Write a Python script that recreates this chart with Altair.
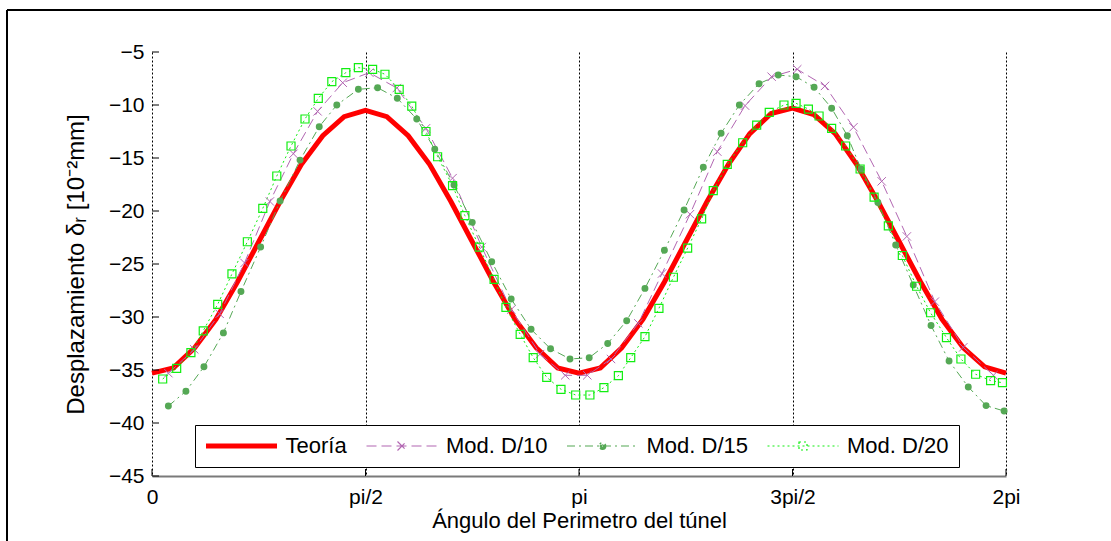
import altair as alt
import pandas as pd

# ---------------- data ----------------
series_names = ["Teoría", "Mod. D/10", "Mod. D/15", "Mod. D/20"]
series_colors = ["#FF0000", "#B266B2", "#55A855", "#11EE11"]

# angle in degrees along the tunnel perimeter, displacement in 1e-2 mm
teoria_ang = [0, 9, 18, 27, 36, 45, 54, 63, 72, 81, 90, 99, 108, 117, 126, 135, 144, 153, 162, 171,
              180, 189, 198, 207, 216, 225, 234, 243, 252, 261, 270, 279, 288, 297, 306, 315, 324,
              333, 342, 351, 360]
teoria_val = [-35.3, -34.8, -32.9, -30.2, -26.7, -22.9, -19.1, -15.6, -12.9, -11.1, -10.5, -11.1,
              -12.9, -15.6, -19.1, -22.9, -26.7, -30.2, -32.9, -34.8, -35.3, -34.8, -32.9, -30.2,
              -26.7, -22.9, -19.1, -15.6, -12.7, -10.8, -10.3, -10.9, -12.7, -15.6, -19.1, -22.9,
              -26.7, -30.2, -32.9, -34.7, -35.3]

d10_ang = [6.9, 17.8, 28.5, 39, 49.7, 59.6, 69.8, 80.4, 91.6, 103.2, 115.5, 126.7, 139, 151.4,
           163.6, 174.2, 183.5, 193.5, 205, 215, 226.8, 238.3, 250, 261.2, 272, 283.7, 295.7,
           307.6, 318.2, 330, 342, 354.7]
d10_val = [-35.3, -33.05, -29.7, -24.9, -19.1, -14.6, -10.6, -7.9, -6.95, -8.4, -12.2, -16.9,
           -23.4, -29.3, -33.5, -35.5, -35.5, -33.96, -30.6, -25.9, -20.3, -14.4, -10.06, -7.33,
           -6.63, -8.2, -12.1, -17.2, -22.4, -28.55, -32.86, -35.5]

d15_ang = [6.9, 14.3, 21.9, 30.1, 37.5, 45.8, 54, 62.4, 70.5, 77.9, 87, 95.1, 103.4, 111.6, 119.2,
           127.3, 135, 143.2, 151.4, 159.8, 168, 176.2, 184.3, 192.1, 200.1, 207.8, 216, 224.3,
           232.4, 239.9, 247.6, 255.9, 264, 271.5, 279.1, 286.5, 293.1, 298.9, 306, 313.5, 320.9,
           328.4, 336, 344.1, 351.6, 359.2]
d15_val = [-38.4, -37.0, -34.7, -31.5, -27.6, -23.4, -19.06, -15.2, -12.05, -10.0, -8.52, -8.37,
           -9.37, -11.32, -14.18, -17.55, -21.07, -24.78, -28.3, -31.16, -33.0, -33.96, -33.84,
           -32.5, -30.35, -27.3, -23.7, -19.9, -15.88, -12.67, -10.0, -7.99, -7.17, -7.33, -8.33,
           -10.3, -12.9, -16.04, -19.2, -23.2, -26.98, -30.8, -34.15, -36.6, -38.36, -38.87]

d20_ang = [4.5, 10.4, 16.4, 21.6, 27.7, 33.7, 40.2, 46.7, 52.6, 58.6, 64.5, 70.1, 75.8, 81.7, 87,
           93, 98.2, 104.2, 109.5, 115.5, 120.4, 126.7, 131.9, 138, 144.2, 149.2, 155.2, 160.7,
           166.4, 172.4, 178.6, 184.6, 190.5, 196.6, 201.8, 207.8, 213.7, 219.8, 225.8, 231.7,
           236.6, 242.5, 249, 254.9, 260.2, 266.4, 271.5, 276.7, 281.2, 286.5, 292.4, 298.5,
           304.4, 310.4, 316.3, 322.3, 328.2, 334.9, 341, 347.2, 353.5, 358.5]
d20_val = [-35.85, -34.84, -33.37, -31.3, -28.8, -25.94, -22.9, -19.75, -16.7, -13.87, -11.32,
           -9.37, -7.8, -6.95, -6.48, -6.63, -7.1, -8.52, -10.1, -12.5, -14.88, -17.6, -20.44,
           -23.4, -26.45, -29.1, -31.63, -33.84, -35.69, -36.82, -37.36, -37.36, -36.67, -35.54,
           -33.84, -31.86, -29.18, -26.25, -23.5, -20.75, -18.08, -15.6, -13.56, -11.89, -10.69,
           -10.0, -9.84, -10.38, -11.04, -12.2, -13.87, -16.04, -18.7, -21.4, -24.2, -27.1, -29.6,
           -31.95, -33.96, -35.4, -36.0, -36.2]

x_tick_vals = [0, 90, 180, 270, 360]
x_tick_labels = ["0", "pi/2", "pi", "3pi/2", "2pi"]
y_tick_vals = [-5, -10, -15, -20, -25, -30, -35, -40, -45]

# ---------------- layout / style ----------------
W, H = 854, 424
FONT = "Liberation Sans"

def frame(ang, val, name):
    return pd.DataFrame({"ang": ang, "val": val, "series": name})

df_t = frame(teoria_ang, teoria_val, series_names[0])
df_10 = frame(d10_ang, d10_val, series_names[1])
df_15 = frame(d15_ang, d15_val, series_names[2])
df_20 = frame(d20_ang, d20_val, series_names[3])

label_expr = " : ".join(
    f"datum.value == {v} ? '{l}'" for v, l in zip(x_tick_vals, x_tick_labels)
) + " : ''"

x_scale = alt.Scale(domain=[0, 360], nice=False, zero=False)
y_scale = alt.Scale(domain=[-45, -5], nice=False, zero=False)

x_enc = alt.X(
    "ang:Q", scale=x_scale,
    axis=alt.Axis(
        values=x_tick_vals, labelExpr=label_expr, title="Ángulo del Perimetro del túnel",
        grid=True, gridColor="#000000", gridDash=[2, 2], gridWidth=1, gridOpacity=1,
        ticks=False, tickSize=0, labelPadding=10, titlePadding=3,
        domain=True, domainColor="#7a7a7a", domainWidth=2,
        labelFontSize=21, titleFontSize=22, labelFont=FONT, titleFont=FONT,
        labelColor="#000000", titleColor="#000000", titleFontWeight="normal",
        labelFlush=False,
    ),
)
y_enc = alt.Y(
    "val:Q", scale=y_scale,
    axis=alt.Axis(
        values=y_tick_vals, title="Desplazamiento δᵣ [10⁻²mm]", grid=False,
        ticks=False, tickSize=0, labelPadding=8, titlePadding=20, domain=False,
        labelFontSize=21, titleFontSize=24, labelFont=FONT, titleFont=FONT,
        labelColor="#000000", titleColor="#000000", titleFontWeight="normal",
        labelFlush=False,
    ),
)

def line_layer(df, color, width, dash=None):
    kw = dict(color=color, strokeWidth=width)
    if dash is not None:
        kw["strokeDash"] = dash
    return alt.Chart(df).mark_line(**kw).encode(x=x_enc, y=y_enc)

lines = [
    line_layer(df_t, series_colors[0], 5),
    line_layer(df_10, series_colors[1], 1, [10, 5]),
    line_layer(df_15, series_colors[2], 1, [8, 4, 2, 4]),
    line_layer(df_20, series_colors[3], 1, [2, 3]),
]

cross_path = "M-1,-1L1,1M-1,1L1,-1"
markers = [
    alt.Chart(df_10).mark_point(shape=cross_path, size=70, filled=False, color=series_colors[1],
                                strokeWidth=1, opacity=1).encode(x=x_enc, y=y_enc),
    alt.Chart(df_15).mark_point(shape="circle", size=48, filled=True, color=series_colors[2],
                                opacity=1).encode(x=x_enc, y=y_enc),
    alt.Chart(df_20).mark_point(shape="square", size=64, filled=False, color=series_colors[3],
                                strokeWidth=1.2, opacity=1).encode(x=x_enc, y=y_enc),
]

# legend: symbol paths = line sample with its marker in the middle
# (symbolSize 400 -> 10 px per path unit; the sample is 71 px long)
legend_shapes = [
    "M-3.55,-0.2L3.55,-0.2M-3.55,-0.1L3.55,-0.1M-3.55,0L3.55,0M-3.55,0.1L3.55,0.1M-3.55,0.2L3.55,0.2",
    "M-0.45,-0.45L0.45,0.45M-0.45,0.45L0.45,-0.45M-3.55,0L3.55,0",
    "M0.33,0A0.33,0.33 0 1,1 -0.33,0A0.33,0.33 0 1,1 0.33,0"
    "M0.22,0A0.22,0.22 0 1,1 -0.22,0A0.22,0.22 0 1,1 0.22,0"
    "M0.11,0A0.11,0.11 0 1,1 -0.11,0A0.11,0.11 0 1,1 0.11,0M-3.55,0L3.55,0",
    "M-0.4,-0.4H0.4V0.4H-0.4ZM-3.55,0L3.55,0",
]
legend_dashes = [[1, 0], [10, 5], [8, 4, 2, 4], [2, 3]]

leg = alt.Legend(
    title=None, orient="none", legendX=43, legendY=373, direction="horizontal", columns=4,
    strokeColor="#000000", fillColor="#FFFFFF", padding=10, columnPadding=16.5,
    symbolOffset=25.5, labelOffset=33,
    labelFontSize=22, labelFont=FONT, labelColor="#000000", symbolSize=400,
    symbolStrokeWidth=1.2, labelLimit=300,
)
df_all = pd.concat([df_t, df_10, df_15, df_20], ignore_index=True)
legend_layer = alt.Chart(df_all).transform_filter("false").mark_point(
    filled=False, strokeWidth=1.2, opacity=1
).encode(
    x=x_enc, y=y_enc,
    color=alt.Color("series:N", scale=alt.Scale(domain=series_names, range=series_colors), legend=leg),
    shape=alt.Shape("series:N", scale=alt.Scale(domain=series_names, range=legend_shapes), legend=leg),
    strokeDash=alt.StrokeDash("series:N", scale=alt.Scale(domain=series_names, range=legend_dashes), legend=leg),
)

# inward tick marks
xt = alt.Chart(pd.DataFrame({"ang": x_tick_vals})).mark_rule(color="#000000", strokeWidth=1).encode(
    x=alt.X("ang:Q", scale=x_scale), y=alt.value(H), y2=alt.value(H - 7))
yt = alt.Chart(pd.DataFrame({"val": y_tick_vals})).mark_rule(color="#000000", strokeWidth=1).encode(
    y=alt.Y("val:Q", scale=y_scale), x=alt.value(0), x2=alt.value(7))

# outer figure frame (top and left edges visible in the reference)
one = pd.DataFrame({"k": [0]})
frame_top = alt.Chart(one).mark_rule(color="#000000", strokeWidth=2).encode(
    x=alt.value(-145), x2=alt.value(1000), y=alt.value(-42))
frame_left = alt.Chart(one).mark_rule(color="#000000", strokeWidth=2).encode(
    x=alt.value(-145), y=alt.value(-42), y2=alt.value(520))

chart = alt.layer(
    *lines, *markers, legend_layer, xt, yt, frame_top, frame_left
).properties(
    width=W, height=H,
    autosize=alt.AutoSizeParams(type="none"),
    padding={"left": 152, "top": 52, "right": 105, "bottom": 65},
    background="#FFFFFF",
).configure_view(stroke=None)

chart.save("out.html", embed_options={"renderer": "svg", "actions": False})
